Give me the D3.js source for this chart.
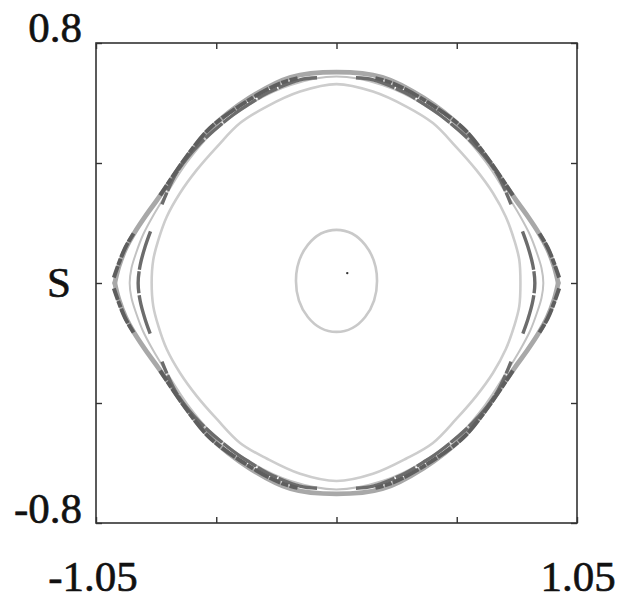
<!DOCTYPE html>
<html>
<head>
<meta charset="utf-8">
<script src="https://cdn.jsdelivr.net/npm/d3@7"></script>
<style>
  html, body { margin: 0; padding: 0; background: #fff; }
  svg { display: block; }
</style>
</head>
<body>
<svg id="chart" width="631" height="599"></svg>
<script>
// Axis extents and ticks
const xDomain = [-1.05, 1.05];
const sDomain = [-0.8, 0.8];
const xTicks = [-1.05, -0.525, 0, 0.525, 1.05];
const sTicks = [-0.8, -0.4, 0, 0.4, 0.8];
const xEndLabels = ["-1.05", "1.05"];
const sEndLabels = ["-0.8", "0.8"];
const sTitle = "S";

// Central fixed point and the small invariant loop around it
const centerPoint = [0.047, 0.033];
const smallLoop = { cx: 0, cs: 0.007, rx: 0.177, rs: 0.17 };

// Inner regular orbit (closed)
const innerOrbit = [
  [0.803, 0], [0.798, 0.077], [0.776, 0.143], [0.739, 0.221], [0.683, 0.300],
  [0.610, 0.377], [0.522, 0.454], [0.421, 0.533], [0.305, 0.588], [0.159, 0.638],
  [0, 0.663], [-0.159, 0.638], [-0.305, 0.588], [-0.421, 0.533], [-0.522, 0.454],
  [-0.610, 0.377], [-0.683, 0.300], [-0.741, 0.221], [-0.778, 0.143], [-0.800, 0.077],
  [-0.807, 0], [-0.800, -0.077], [-0.778, -0.143], [-0.741, -0.221], [-0.683, -0.300],
  [-0.610, -0.377], [-0.522, -0.454], [-0.421, -0.533], [-0.305, -0.585], [-0.159, -0.636],
  [0, -0.660], [0.159, -0.636], [0.305, -0.585], [0.421, -0.533], [0.522, -0.454],
  [0.610, -0.377], [0.683, -0.300], [0.739, -0.221], [0.776, -0.143], [0.798, -0.077]
];

// Thin light orbit inside the separatrix layer (closed)
const layerOrbit = [
  [0.903, 0], [0.895, 0.05], [0.875, 0.10], [0.845, 0.16], [0.800, 0.225],
  [0.740, 0.300], [0.650, 0.405], [0.550, 0.495], [0.380, 0.595], [0.200, 0.660],
  [0, 0.688], [-0.200, 0.660], [-0.380, 0.595], [-0.550, 0.495], [-0.650, 0.405],
  [-0.740, 0.300], [-0.800, 0.225], [-0.845, 0.16], [-0.875, 0.10], [-0.895, 0.05],
  [-0.903, 0], [-0.895, -0.05], [-0.875, -0.10], [-0.845, -0.16], [-0.800, -0.225],
  [-0.740, -0.300], [-0.650, -0.405], [-0.550, -0.495], [-0.380, -0.595], [-0.200, -0.660],
  [0, -0.688], [0.200, -0.660], [0.380, -0.595], [0.550, -0.495], [0.650, -0.405],
  [0.740, -0.300], [0.800, -0.225], [0.845, -0.16], [0.875, -0.10], [0.895, -0.05]
];

// Outer separatrix band: upper and lower arcs meeting in corners
const separatrixUpper = [
  [-0.968, 0], [-0.950, 0.055], [-0.920, 0.115], [-0.880, 0.170], [-0.835, 0.222],
  [-0.785, 0.275], [-0.730, 0.335], [-0.655, 0.418], [-0.550, 0.515], [-0.380, 0.617],
  [-0.200, 0.686], [0, 0.703], [0.200, 0.686], [0.380, 0.617], [0.550, 0.515],
  [0.655, 0.418], [0.730, 0.335], [0.785, 0.275], [0.835, 0.222], [0.880, 0.170],
  [0.920, 0.115], [0.950, 0.055], [0.968, 0]
];
const separatrixLower = [
  [-0.968, 0], [-0.950, -0.055], [-0.920, -0.115], [-0.880, -0.170], [-0.835, -0.222],
  [-0.785, -0.275], [-0.730, -0.335], [-0.655, -0.418], [-0.550, -0.515], [-0.380, -0.617],
  [-0.200, -0.686], [0, -0.703], [0.200, -0.686], [0.380, -0.617], [0.550, -0.515],
  [0.655, -0.418], [0.730, -0.335], [0.785, -0.275], [0.835, -0.222], [0.880, -0.170],
  [0.920, -0.115], [0.950, -0.055], [0.968, 0]
];

// Chaotic orbit segments hugging the separatrix (dark, ragged)
const chaoticArcs = [
  [[-0.972, 0.018], [-0.952, 0.062], [-0.922, 0.118], [-0.886, 0.165]],
  [[-0.770, 0.292], [-0.734, 0.334], [-0.654, 0.422], [-0.553, 0.516], [-0.378, 0.612], [-0.250, 0.664], [-0.170, 0.683]],
  [[0.972, 0.018], [0.952, 0.062], [0.922, 0.118], [0.886, 0.165]],
  [[0.770, 0.292], [0.734, 0.334], [0.654, 0.422], [0.553, 0.516], [0.378, 0.612], [0.250, 0.664], [0.170, 0.683]],
  [[-0.972, -0.018], [-0.952, -0.062], [-0.922, -0.118], [-0.886, -0.165]],
  [[-0.770, -0.292], [-0.734, -0.334], [-0.654, -0.422], [-0.553, -0.516], [-0.378, -0.612], [-0.250, -0.664], [-0.170, -0.683]],
  [[0.972, -0.018], [0.952, -0.062], [0.922, -0.118], [0.886, -0.165]],
  [[0.770, -0.292], [0.734, -0.334], [0.654, -0.422], [0.553, -0.516], [0.378, -0.612], [0.250, -0.664], [0.170, -0.683]]
];

// Island-chain orbit just inside the layer (dark, smoother)
const islandArcs = [
  [[-0.085, 0.684], [-0.160, 0.677], [-0.300, 0.634], [-0.378, 0.598], [-0.452, 0.560], [-0.596, 0.465], [-0.698, 0.368], [-0.762, 0.262]],
  [[0.085, 0.684], [0.160, 0.677], [0.300, 0.634], [0.378, 0.598], [0.452, 0.560], [0.596, 0.465], [0.698, 0.368], [0.762, 0.262]],
  [[-0.085, -0.684], [-0.160, -0.677], [-0.300, -0.634], [-0.378, -0.598], [-0.452, -0.560], [-0.596, -0.465], [-0.698, -0.368], [-0.762, -0.262]],
  [[0.085, -0.684], [0.160, -0.677], [0.300, -0.634], [0.378, -0.598], [0.452, -0.560], [0.596, -0.465], [0.698, -0.368], [0.762, -0.262]],
  [[-0.812, 0.172], [-0.836, 0.120], [-0.857, 0.060], [-0.866, 0], [-0.857, -0.060], [-0.836, -0.120], [-0.812, -0.172]],
  [[0.812, 0.172], [0.836, 0.120], [0.857, 0.060], [0.866, 0], [0.857, -0.060], [0.836, -0.120], [0.812, -0.172]]
];

const margin = { left: 96, top: 43 };
const width = 481, height = 480;
const serif = "Liberation Serif";

const svg = d3.select("#chart");
const g = svg.append("g").attr("transform", `translate(${margin.left},${margin.top})`);

const x = d3.scaleLinear().domain(xDomain).range([0, width]);
const y = d3.scaleLinear().domain(sDomain).range([height, 0]);

const openLine = d3.line().x(d => x(d[0])).y(d => y(d[1])).curve(d3.curveCatmullRom.alpha(0.5));
const closedLine = d3.line().x(d => x(d[0])).y(d => y(d[1])).curve(d3.curveCatmullRomClosed.alpha(0.5));

// Small loop around the centre
g.append("ellipse")
  .attr("cx", x(smallLoop.cx)).attr("cy", y(smallLoop.cs))
  .attr("rx", x(smallLoop.rx) - x(0)).attr("ry", y(0) - y(smallLoop.rs))
  .attr("fill", "none").attr("stroke", "#c9c9c9").attr("stroke-width", 2.6);

g.append("path").attr("d", closedLine(innerOrbit))
  .attr("fill", "none").attr("stroke", "#cdcdcd").attr("stroke-width", 2.6);

g.append("path").attr("d", closedLine(layerOrbit))
  .attr("fill", "none").attr("stroke", "#c2c2c2").attr("stroke-width", 2);

g.selectAll("path.sep").data([separatrixUpper, separatrixLower]).join("path")
  .attr("class", "sep").attr("d", openLine)
  .attr("fill", "none").attr("stroke", "#a8a8a8").attr("stroke-width", 4.8)
  .attr("stroke-linejoin", "round").attr("stroke-linecap", "round");

g.selectAll("path.island").data(islandArcs).join("path")
  .attr("class", "island").attr("d", openLine)
  .attr("fill", "none").attr("stroke", "#6c6c6c").attr("stroke-width", 3.4)
  .attr("stroke-dasharray", "40,1.5,22,2");

g.selectAll("path.chaos").data(chaoticArcs).join("path")
  .attr("class", "chaos").attr("d", openLine)
  .attr("fill", "none").attr("stroke", "#5e5e5e").attr("stroke-width", 4)
  .attr("stroke-dasharray", "12,1.2,7,1.5,16,1.2");

g.append("circle").attr("cx", x(centerPoint[0])).attr("cy", y(centerPoint[1]))
  .attr("r", 1.2).attr("fill", "#333");

// Frame and inward ticks on all four sides
const tickLen = 6;
const axisStyle = sel => {
  sel.select(".domain").remove();
  sel.selectAll(".tick line").attr("stroke", "#333").attr("stroke-width", 1.4);
};
g.append("g").attr("transform", `translate(0,${height})`)
  .call(d3.axisBottom(x).tickValues(xTicks).tickSize(-tickLen).tickFormat("")).call(axisStyle);
g.append("g")
  .call(d3.axisTop(x).tickValues(xTicks).tickSize(-tickLen).tickFormat("")).call(axisStyle);
g.append("g")
  .call(d3.axisLeft(y).tickValues(sTicks).tickSize(-tickLen).tickFormat("")).call(axisStyle);
g.append("g").attr("transform", `translate(${width},0)`)
  .call(d3.axisRight(y).tickValues(sTicks).tickSize(-tickLen).tickFormat("")).call(axisStyle);

g.append("rect").attr("x", 0).attr("y", 0).attr("width", width).attr("height", height)
  .attr("fill", "none").attr("stroke", "#333").attr("stroke-width", 1.6);

// End labels
const fontSize = 43;
const label = (tx, ty, str, anchor) => svg.append("text")
  .attr("x", tx).attr("y", ty)
  .attr("text-anchor", anchor)
  .attr("font-family", serif)
  .attr("font-size", fontSize)
  .attr("fill", "#111")
  .attr("stroke", "#111")
  .attr("stroke-width", 0.6)
  .text(str);

label(margin.left - 14, margin.top + y(sDomain[1]) - 1, sEndLabels[1], "end");
label(margin.left - 14, margin.top + y(sDomain[0]), sEndLabels[0], "end");
label(59, margin.top + y(0) + 14, sTitle, "middle");
label(margin.left + x(xDomain[0]) - 3, 591, xEndLabels[0], "middle");
label(margin.left + x(xDomain[1]) + 1, 591, xEndLabels[1], "middle");
</script>
</body>
</html>
